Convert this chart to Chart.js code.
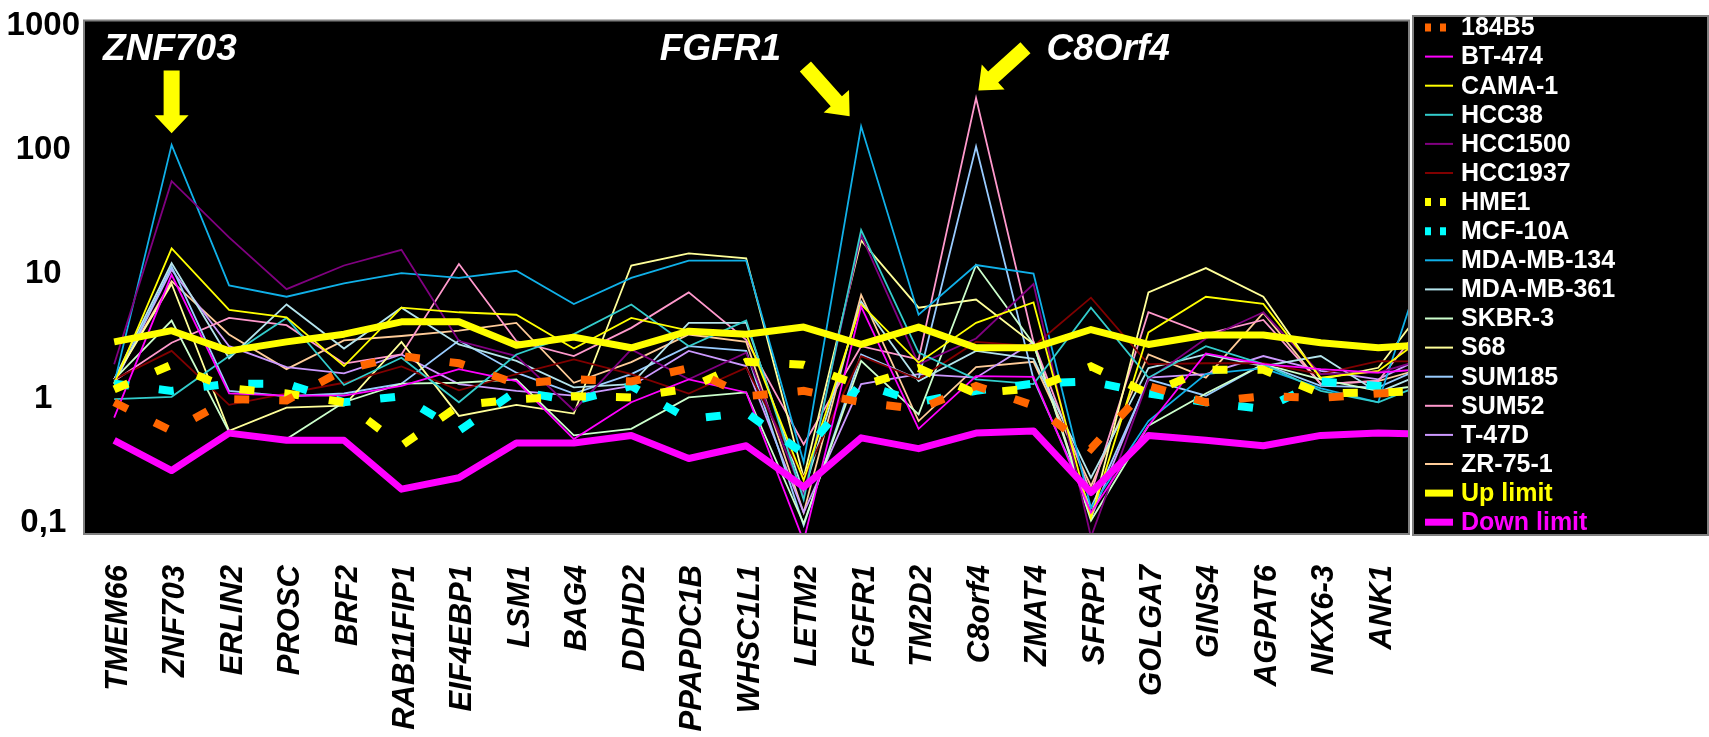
<!DOCTYPE html>
<html>
<head>
<meta charset="utf-8">
<script src="https://cdn.jsdelivr.net/npm/chart.js@4.4.1/dist/chart.umd.min.js"></script>
<style>
  html, body { margin: 0; padding: 0; background: #fff; }
  #wrap { width: 1709px; height: 737px; }
</style>
</head>
<body>
<div id="wrap"><canvas id="geneChart" width="1709" height="737"></canvas></div>
<script>
// genes on the x axis (the 24th value of each series lies just past the right edge)
const genes = ['TMEM66', 'ZNF703', 'ERLIN2', 'PROSC', 'BRF2', 'RAB11FIP1', 'EIF4EBP1', 'LSM1',
  'BAG4', 'DDHD2', 'PPAPDC1B', 'WHSC1L1', 'LETM2', 'FGFR1', 'TM2D2', 'C8orf4', 'ZMAT4',
  'SFRP1', 'GOLGA7', 'GINS4', 'AGPAT6', 'NKX6-3', 'ANK1'];
const yTicks = [0.1, 1, 10, 100, 1000];
const yTickLabels = ['0,1', '1', '10', '100', '1000'];

// relative expression per cell line
const s184B5    = [0.85, 0.5, 0.9, 0.88, 1.55, 2.0, 1.75, 1.2, 1.3, 1.25, 1.6, 0.95, 1.05, 0.85, 0.75, 1.15, 0.8, 0.36, 1.15, 0.85, 0.95, 0.92, 1.0, 1.05];
const sBT474    = [0.64, 9.0, 1.0, 0.96, 0.96, 1.15, 1.57, 1.26, 0.43, 0.85, 1.3, 1.02, 0.065, 5.0, 0.52, 1.38, 1.36, 0.11, 0.55, 2.1, 1.72, 1.57, 1.47, 1.6];
const sCAMA1    = [1.2, 14.7, 4.7, 4.1, 1.66, 4.9, 4.5, 4.3, 2.3, 4.05, 3.2, 3.0, 0.2, 5.2, 1.77, 3.7, 5.4, 0.1, 3.1, 6.0, 5.25, 1.34, 1.52, 3.3];
const sHCC38    = [0.9, 0.94, 2.0, 4.05, 1.17, 1.94, 0.85, 2.06, 3.0, 5.2, 2.4, 3.86, 0.14, 20.6, 2.13, 1.3, 1.19, 4.9, 1.34, 2.4, 1.72, 1.05, 0.85, 1.3];
const sHCC1500  = [1.72, 51, 18, 6.9, 10.7, 14.3, 2.64, 2.0, 0.73, 2.26, 1.3, 2.13, 0.15, 18.8, 1.72, 2.77, 7.6, 0.07, 1.3, 2.77, 4.5, 1.43, 1.47, 2.0];
const sHCC1937  = [1.3, 2.2, 0.81, 1.0, 1.22, 1.65, 1.06, 1.43, 1.88, 1.43, 1.0, 1.61, 0.21, 2.0, 1.3, 2.6, 2.4, 5.9, 1.72, 1.75, 1.75, 1.43, 1.82, 1.8];
const sHME1     = [1.08, 1.7, 1.1, 1.0, 0.85, 0.38, 0.8, 0.9, 0.95, 0.93, 1.1, 1.8, 1.7, 1.15, 1.6, 1.0, 1.1, 1.65, 1.0, 1.55, 1.55, 1.0, 1.02, 1.05];
const sMCF10A   = [1.2, 1.05, 1.2, 1.2, 0.85, 0.95, 0.5, 1.05, 0.87, 1.15, 0.62, 0.7, 0.33, 1.2, 0.85, 1.05, 1.2, 1.25, 1.0, 0.85, 0.75, 1.25, 1.15, 1.1];
const sMDAMB134 = [1.2, 100, 7.4, 6.0, 7.7, 9.3, 8.5, 9.7, 5.25, 8.5, 11.7, 11.7, 0.28, 141, 4.3, 10.8, 9.2, 0.12, 0.6, 1.43, 1.6, 1.1, 0.85, 22];
const sMDAMB361 = [1.3, 11.2, 1.92, 5.2, 2.3, 4.9, 2.48, 1.83, 1.12, 1.19, 3.7, 3.7, 0.16, 5.5, 1.26, 2.2, 1.9, 0.21, 1.6, 2.06, 1.66, 2.0, 1.02, 1.6];
const sSKBR3    = [1.3, 3.86, 0.49, 0.43, 0.85, 1.2, 1.22, 1.3, 0.46, 0.52, 0.93, 1.02, 0.09, 1.83, 0.68, 10.8, 2.5, 0.095, 0.55, 1.0, 1.72, 1.3, 1.05, 1.2];
const sS68      = [1.3, 7.6, 0.5, 0.77, 0.8, 2.6, 0.66, 0.81, 0.69, 10.7, 13.4, 12.2, 0.21, 17, 4.9, 5.7, 2.5, 0.1, 6.5, 10.2, 6.0, 1.3, 1.61, 6.5];
const sSUM185   = [1.2, 10.5, 1.05, 0.95, 1.0, 1.2, 2.67, 1.47, 1.0, 1.43, 2.4, 2.2, 0.087, 2.06, 1.3, 97, 1.3, 0.12, 1.3, 0.96, 1.72, 1.15, 1.12, 1.8];
const sSUM52    = [1.26, 2.56, 4.05, 3.54, 1.74, 2.06, 11, 2.64, 2.0, 3.37, 6.5, 2.7, 0.39, 2.4, 1.88, 238, 2.6, 0.157, 4.5, 3.0, 3.9, 1.19, 1.26, 4.9];
const sT47D     = [1.2, 9.9, 2.4, 1.63, 1.45, 2.06, 1.19, 1.05, 0.96, 1.15, 2.2, 1.66, 0.11, 1.19, 1.43, 1.34, 2.6, 0.1, 1.34, 1.43, 2.0, 1.52, 1.3, 2.2];
const sZR751    = [1.3, 8.0, 2.98, 1.57, 2.67, 2.9, 3.2, 3.7, 1.22, 1.79, 2.98, 2.6, 0.11, 6.2, 0.6, 1.63, 1.8, 0.18, 2.06, 1.34, 4.45, 1.19, 1.26, 1.7];
const upLimit   = [2.6, 3.2, 2.2, 2.6, 3.0, 3.77, 3.77, 2.44, 2.84, 2.33, 3.17, 2.99, 3.42, 2.48, 3.42, 2.33, 2.33, 3.27, 2.48, 2.95, 2.95, 2.56, 2.33, 2.5];
const downLimit = [0.42, 0.24, 0.48, 0.42, 0.42, 0.17, 0.21, 0.40, 0.40, 0.46, 0.30, 0.38, 0.177, 0.44, 0.36, 0.48, 0.50, 0.16, 0.46, 0.42, 0.38, 0.46, 0.48, 0.47];

// callouts: [gene index, value] anchors for the label text and the arrow
const callouts = [
  { text: 'ZNF703', at: [0.97, 485], tail: [1, 396], tip: [1, 124], shaft: 16, head: 34, headLen: 18 },
  { text: 'FGFR1',  at: [10.55, 485], tail: [12.03, 426], tip: [12.8, 170], shaft: 15, head: 34, headLen: 20 },
  { text: 'C8Orf4', at: [17.3, 485], tail: [15.86, 604], tip: [15.04, 274], shaft: 15, head: 34, headLen: 20 }
];

const FONT = "'Liberation Sans', Arial, sans-serif";
const pts = values => values.map((v, i) => ({ x: i, y: v }));

function thin(label, values, color) {
  return { label, data: pts(values), borderColor: color, backgroundColor: color,
    borderWidth: 1.8, order: 2 };
}
function dotted(label, values, color) {
  return { label, data: pts(values), borderColor: color, backgroundColor: color,
    borderWidth: 8, borderDash: [15, 30], borderCapStyle: 'butt', order: 1 };
}
function limit(label, values, color) {
  return { label, data: pts(values), borderColor: color, backgroundColor: color,
    borderWidth: 7, borderJoinStyle: 'round', order: 0, labelColor: color };
}

const datasets = [
  dotted('184B5', s184B5, '#FF6600'),
  thin('BT-474', sBT474, '#FF00FF'),
  thin('CAMA-1', sCAMA1, '#FFFF00'),
  thin('HCC38', sHCC38, '#33CCCC'),
  thin('HCC1500', sHCC1500, '#800080'),
  thin('HCC1937', sHCC1937, '#800000'),
  dotted('HME1', sHME1, '#FFFF00'),
  dotted('MCF-10A', sMCF10A, '#00FFFF'),
  thin('MDA-MB-134', sMDAMB134, '#10B0E8'),
  thin('MDA-MB-361', sMDAMB361, '#B4E4EC'),
  thin('SKBR-3', sSKBR3, '#CCFFCC'),
  thin('S68', sS68, '#FFFF99'),
  thin('SUM185', sSUM185, '#99CCFF'),
  thin('SUM52', sSUM52, '#FF99CC'),
  thin('T-47D', sT47D, '#CC99FF'),
  thin('ZR-75-1', sZR751, '#FFCC99'),
  limit('Up limit', upLimit, '#FFFF00'),
  limit('Down limit', downLimit, '#FF00FF')
];

// black plot area with grey frame
const plotFrame = {
  id: 'plotFrame',
  beforeDraw(chart) {
    const { ctx, chartArea: a } = chart;
    ctx.save();
    ctx.fillStyle = '#000';
    ctx.fillRect(a.left, a.top, a.right - a.left, a.bottom - a.top);
    ctx.restore();
  },
  afterDatasetsDraw(chart) {
    const { ctx, chartArea: a } = chart;
    ctx.save();
    ctx.strokeStyle = '#808080';
    ctx.lineWidth = 2;
    ctx.strokeRect(a.left, a.top, a.right - a.left, a.bottom - a.top);
    ctx.restore();
  }
};

// yellow arrows and gene names
const calloutPlugin = {
  id: 'callouts',
  afterDatasetsDraw(chart) {
    const { ctx } = chart;
    const xs = chart.scales.x, ys = chart.scales.y;
    const px = p => [xs.getPixelForValue(p[0]), ys.getPixelForValue(p[1])];
    ctx.save();
    callouts.forEach(c => {
      const [tx, ty] = px(c.tail), [hx, hy] = px(c.tip);
      const len = Math.hypot(hx - tx, hy - ty);
      const dx = (hx - tx) / len, dy = (hy - ty) / len;
      const nx = -dy, ny = dx;
      const bx = hx - dx * c.headLen, by = hy - dy * c.headLen;
      const s = c.shaft / 2, h = c.head / 2;
      ctx.beginPath();
      ctx.moveTo(tx + nx * s, ty + ny * s);
      ctx.lineTo(bx + nx * s, by + ny * s);
      ctx.lineTo(bx + nx * h, by + ny * h);
      ctx.lineTo(hx, hy);
      ctx.lineTo(bx - nx * h, by - ny * h);
      ctx.lineTo(bx - nx * s, by - ny * s);
      ctx.lineTo(tx - nx * s, ty - ny * s);
      ctx.closePath();
      ctx.fillStyle = '#FFFF00';
      ctx.fill();
      const [lx, ly] = px(c.at);
      ctx.fillStyle = '#fff';
      ctx.font = `italic bold 37px ${FONT}`;
      ctx.textAlign = 'center';
      ctx.textBaseline = 'alphabetic';
      ctx.fillText(c.text, lx, ly);
    });
    ctx.restore();
  }
};

// legend in a black box right of the plot
const sideLegend = {
  id: 'sideLegend',
  afterDraw(chart) {
    const { ctx, chartArea: a } = chart;
    const left = a.right + 4, top = 16, right = chart.width - 1, bottom = 535;
    ctx.save();
    ctx.fillStyle = '#000';
    ctx.fillRect(left, top, right - left, bottom - top);
    ctx.strokeStyle = '#808080';
    ctx.lineWidth = 2;
    ctx.strokeRect(left, top, right - left, bottom - top);
    ctx.font = `bold 25px ${FONT}`;
    ctx.textBaseline = 'middle';
    ctx.textAlign = 'left';
    chart.data.datasets.forEach((ds, i) => {
      const y = 27.5 + i * 29.1;
      ctx.beginPath();
      ctx.strokeStyle = ds.borderColor;
      ctx.lineWidth = ds.borderDash ? 8 : (ds.labelColor ? 7 : 2);
      ctx.setLineDash(ds.borderDash ? [6, 9] : []);
      ctx.moveTo(left + 12, y);
      ctx.lineTo(left + 40, y);
      ctx.stroke();
      ctx.setLineDash([]);
      ctx.fillStyle = ds.labelColor || '#fff';
      ctx.fillText(ds.label, left + 48, y + 1);
    });
    ctx.restore();
  }
};

new Chart(document.getElementById('geneChart'), {
  type: 'line',
  data: { datasets },
  options: {
    responsive: false,
    animation: false,
    layout: { padding: { top: 18, right: 300, left: 0, bottom: 0 } },
    elements: { point: { radius: 0 }, line: { tension: 0 } },
    datasets: { line: { clip: 0 } },
    plugins: { legend: { display: false }, tooltip: { enabled: false } },
    scales: {
      x: {
        type: 'linear',
        min: -0.525,
        max: 22.535,
        grid: { display: false, drawTicks: false },
        border: { display: false },
        afterBuildTicks: s => { s.ticks = genes.map((g, i) => ({ value: i })); },
        afterFit: s => { s.height = 203; },
        ticks: {
          autoSkip: false,
          minRotation: 90,
          maxRotation: 90,
          padding: 31,
          labelOffset: 4,
          color: '#000',
          font: { family: FONT, size: 31, weight: 'bold', style: 'italic' },
          callback: (v, i) => genes[i]
        }
      },
      y: {
        type: 'logarithmic',
        min: 0.0741,
        max: 1000,
        grid: { display: false, drawTicks: false },
        border: { display: false },
        afterBuildTicks: s => { s.ticks = yTicks.map(v => ({ value: v })); },
        afterFit: s => { s.width = 84; },
        ticks: {
          crossAlign: 'center',
          padding: 4,
          labelOffset: 5,
          color: '#000',
          font: { family: FONT, size: 33, weight: 'bold', lineHeight: 1 },
          callback: (v, i) => yTickLabels[i]
        }
      }
    }
  },
  plugins: [plotFrame, calloutPlugin, sideLegend]
});
</script>
</body>
</html>
